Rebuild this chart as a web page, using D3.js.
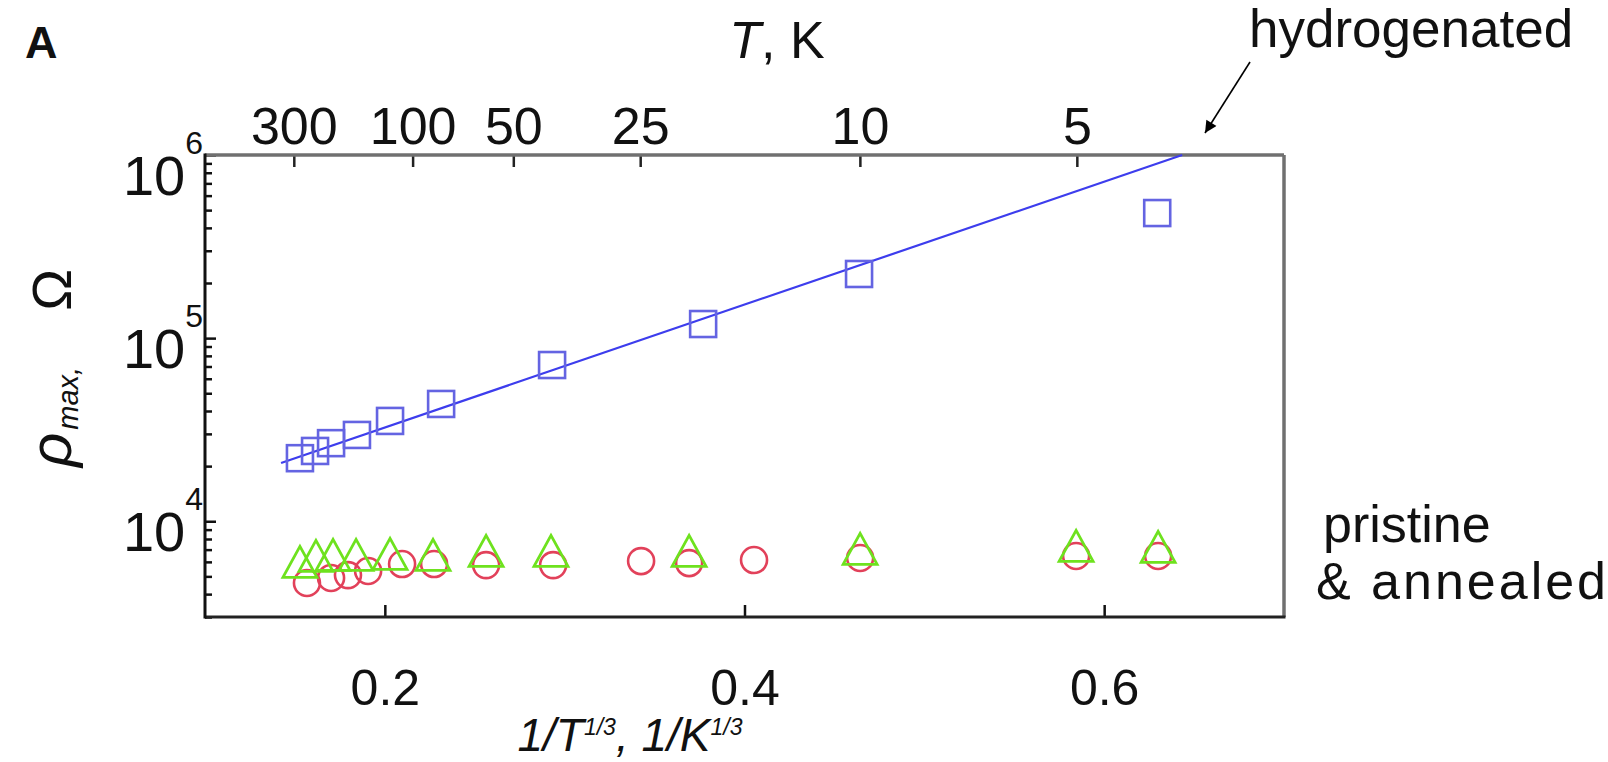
<!DOCTYPE html>
<html><head><meta charset="utf-8">
<script src="https://cdn.jsdelivr.net/npm/d3@7"></script>
<style>
body{margin:0;background:#fff}
svg{display:block}
text{font-family:"Liberation Sans",Arial,Helvetica,sans-serif;fill:#111}
</style>
</head><body>
<svg id="c" width="1608" height="762"></svg>
<script>
// ---- tick labels / axes ----
const xTicks = [0.2, 0.4, 0.6];
const topTicksT = [300, 100, 50, 25, 10, 5];
const yMajor = [1e4, 1e5, 1e6];
const yMinor = [3e3,4e3,5e3,6e3,7e3,8e3,9e3, 2e4,3e4,4e4,5e4,6e4,7e4,8e4,9e4, 2e5,3e5,4e5,5e5,6e5,7e5,8e5,9e5];

// ---- hydrogenated (blue squares) ----
const hydX   = [0.1528, 0.1612, 0.1701, 0.1845, 0.2029, 0.2313, 0.2930, 0.3770, 0.4637, 0.6295];
const hydRho = [22100, 24200, 26700, 29600, 35300, 43700, 71300, 119400, 224000, 482000];

// ---- fit line for hydrogenated ----
const fitX   = [0.1423, 0.6434];
const fitRho = [20800, 1000000];

// ---- pristine (red circles) ----
const priX   = [0.1567, 0.1701, 0.1795, 0.1907, 0.2096, 0.2274, 0.2563, 0.2936, 0.3425, 0.3692, 0.4053, 0.4643, 0.5844, 0.6300];
const priRho = [4600, 4900, 5080, 5350, 5840, 5840, 5760, 5760, 6060, 5910, 6140, 6300, 6460, 6460];

// ---- annealed (green triangles) ----
const annX   = [0.1528, 0.1617, 0.1712, 0.1840, 0.2029, 0.2268, 0.2563, 0.2924, 0.3692, 0.4643, 0.5844, 0.6300];
const annRho = [5620, 6060, 6140, 6140, 6220, 6140, 6460, 6460, 6460, 6620, 6870, 6790];

const L = 205, R = 1284, T = 155, B = 617;
const svg = d3.select("#c");
const x = d3.scaleLinear().domain([0.1, 0.7]).range([L, R]);
const y = d3.scaleLog().domain([3000, 1e6]).range([B, T]);

const FONT = '"Liberation Sans",Arial,Helvetica,sans-serif';

// ---- bottom axis ----
const gb = svg.append("g").attr("transform", `translate(0,${B})`)
  .call(d3.axisBottom(x).tickValues(xTicks).tickSize(-12).tickPadding(52).tickFormat(d3.format(".1f")));
gb.select(".domain").remove();
gb.selectAll("line").attr("stroke", "#111").attr("stroke-width", 2.5);
gb.selectAll("text").attr("font-size", 50).attr("font-family", FONT).attr("fill", "#111");

// ---- top axis (temperature) ----
const gt = svg.append("g").attr("transform", `translate(0,${T})`)
  .call(d3.axisTop(x).tickValues(topTicksT.map(t => Math.pow(t, -1/3))).tickSize(-12).tickPadding(11)
    .tickFormat((d, i) => topTicksT[i]));
gt.select(".domain").remove();
gt.selectAll("line").attr("stroke", "#222").attr("stroke-width", 2.5);
gt.selectAll("text").attr("font-size", 52).attr("font-family", FONT).attr("fill", "#111");

// ---- left axis ticks ----
const gl = svg.append("g").attr("transform", `translate(${L},0)`)
  .call(d3.axisLeft(y).tickValues(yMajor.concat(yMinor)).tickSize(-7).tickFormat(""));
gl.select(".domain").remove();
gl.selectAll(".tick line").attr("stroke", "#111").attr("stroke-width", 2.5)
  .attr("x2", d => yMajor.includes(d) ? 11 : 7);

// y labels 10^n
const yl = svg.append("g");
yMajor.forEach(v => {
  const e = Math.round(Math.log10(v));
  const t = yl.append("text").attr("x", 203).attr("y", Math.max(y(v) + 30, T + 40))
    .attr("text-anchor", "end").attr("font-size", 56);
  t.append("tspan").text("10");
  t.append("tspan").attr("dy", -41).attr("font-size", 32).text(e);
});

// ---- frame ----
svg.append("line").attr("x1", L).attr("x2", R).attr("y1", T).attr("y2", T).attr("stroke", "#707070").attr("stroke-width", 3.5);
svg.append("line").attr("x1", R).attr("x2", R).attr("y1", T).attr("y2", B).attr("stroke", "#707070").attr("stroke-width", 3.5);
svg.append("line").attr("x1", L).attr("x2", R + 1.5).attr("y1", B).attr("y2", B).attr("stroke", "#222").attr("stroke-width", 3);
svg.append("line").attr("x1", L).attr("x2", L).attr("y1", T - 1.5).attr("y2", B + 1.5).attr("stroke", "#111").attr("stroke-width", 3);

// ---- data ----
const plot = svg.append("g");
// circles (pristine)
plot.selectAll("circle.pri").data(priX.map((d, i) => [d, priRho[i]])).join("circle")
  .attr("class", "pri").attr("cx", d => x(d[0])).attr("cy", d => y(d[1])).attr("r", 13)
  .attr("fill", "none").attr("stroke", "#e2415a").attr("stroke-width", 2.6);
// triangles (annealed)
const tw = 34, th = 31;
plot.selectAll("path.ann").data(annX.map((d, i) => [d, annRho[i]])).join("path")
  .attr("class", "ann")
  .attr("d", `M0,${-2*th/3}L${tw/2},${th/3}L${-tw/2},${th/3}Z`)
  .attr("transform", d => `translate(${x(d[0])},${y(d[1])})`)
  .attr("fill", "none").attr("stroke", "#6ee21e").attr("stroke-width", 2.8).attr("stroke-linejoin", "miter");
// fit line
plot.append("path").datum(fitX.map((d, i) => [d, fitRho[i]]))
  .attr("d", d3.line().x(d => x(d[0])).y(d => y(d[1])))
  .attr("fill", "none").attr("stroke", "#3d3ded").attr("stroke-width", 2.2);
// squares (hydrogenated)
const sq = 26;
plot.selectAll("rect.hyd").data(hydX.map((d, i) => [d, hydRho[i]])).join("rect")
  .attr("class", "hyd").attr("x", d => x(d[0]) - sq/2).attr("y", d => y(d[1]) - sq/2)
  .attr("width", sq).attr("height", sq)
  .attr("fill", "none").attr("stroke", "#6464e2").attr("stroke-width", 2.6);

// ---- titles ----
svg.append("text").attr("x", 25).attr("y", 58).attr("font-size", 45).attr("font-weight", "bold").text("A");

const tt = svg.append("text").attr("x", 777).attr("y", 58).attr("text-anchor", "middle").attr("font-size", 52);
tt.append("tspan").attr("font-style", "italic").text("T");
tt.append("tspan").text(", K");

const xt = svg.append("text").attr("x", 630).attr("y", 751).attr("text-anchor", "middle").attr("font-size", 46).attr("font-style", "italic");
xt.append("tspan").text("1/T");
xt.append("tspan").attr("dy", -16).attr("font-size", 23).text("1/3");
xt.append("tspan").attr("dy", 16).text(", 1/K");
xt.append("tspan").attr("dy", -16).attr("font-size", 23).text("1/3");

const yt = svg.append("text").attr("transform", "translate(71,368) rotate(-90)").attr("text-anchor", "middle").attr("font-size", 56);
yt.append("tspan").attr("font-style", "italic").attr("font-size", 60).text("ρ");
yt.append("tspan").attr("font-style", "italic").attr("font-size", 29).attr("dx", 3).attr("dy", 7).text("max,");
yt.append("tspan").attr("dy", -7).attr("dx", 56).text("Ω");

// ---- annotations ----
svg.append("text").attr("x", 1249).attr("y", 47).attr("font-size", 53).text("hydrogenated");
svg.append("text").attr("x", 1323).attr("y", 542).attr("font-size", 52).text("pristine");
svg.append("text").attr("x", 1316).attr("y", 599).attr("font-size", 52)
  .attr("textLength", 290).attr("lengthAdjust", "spacing").text("& annealed");

svg.append("defs").append("marker").attr("id", "ah").attr("viewBox", "0 0 10 10")
  .attr("refX", 10).attr("refY", 5).attr("markerWidth", 16).attr("markerHeight", 12)
  .attr("markerUnits", "userSpaceOnUse").attr("orient", "auto")
  .append("path").attr("d", "M0,0L10,5L0,10Z").attr("fill", "#000");
svg.append("line").attr("x1", 1250).attr("y1", 62).attr("x2", 1205).attr("y2", 133)
  .attr("stroke", "#000").attr("stroke-width", 1.6).attr("marker-end", "url(#ah)");
</script>
</body></html>
